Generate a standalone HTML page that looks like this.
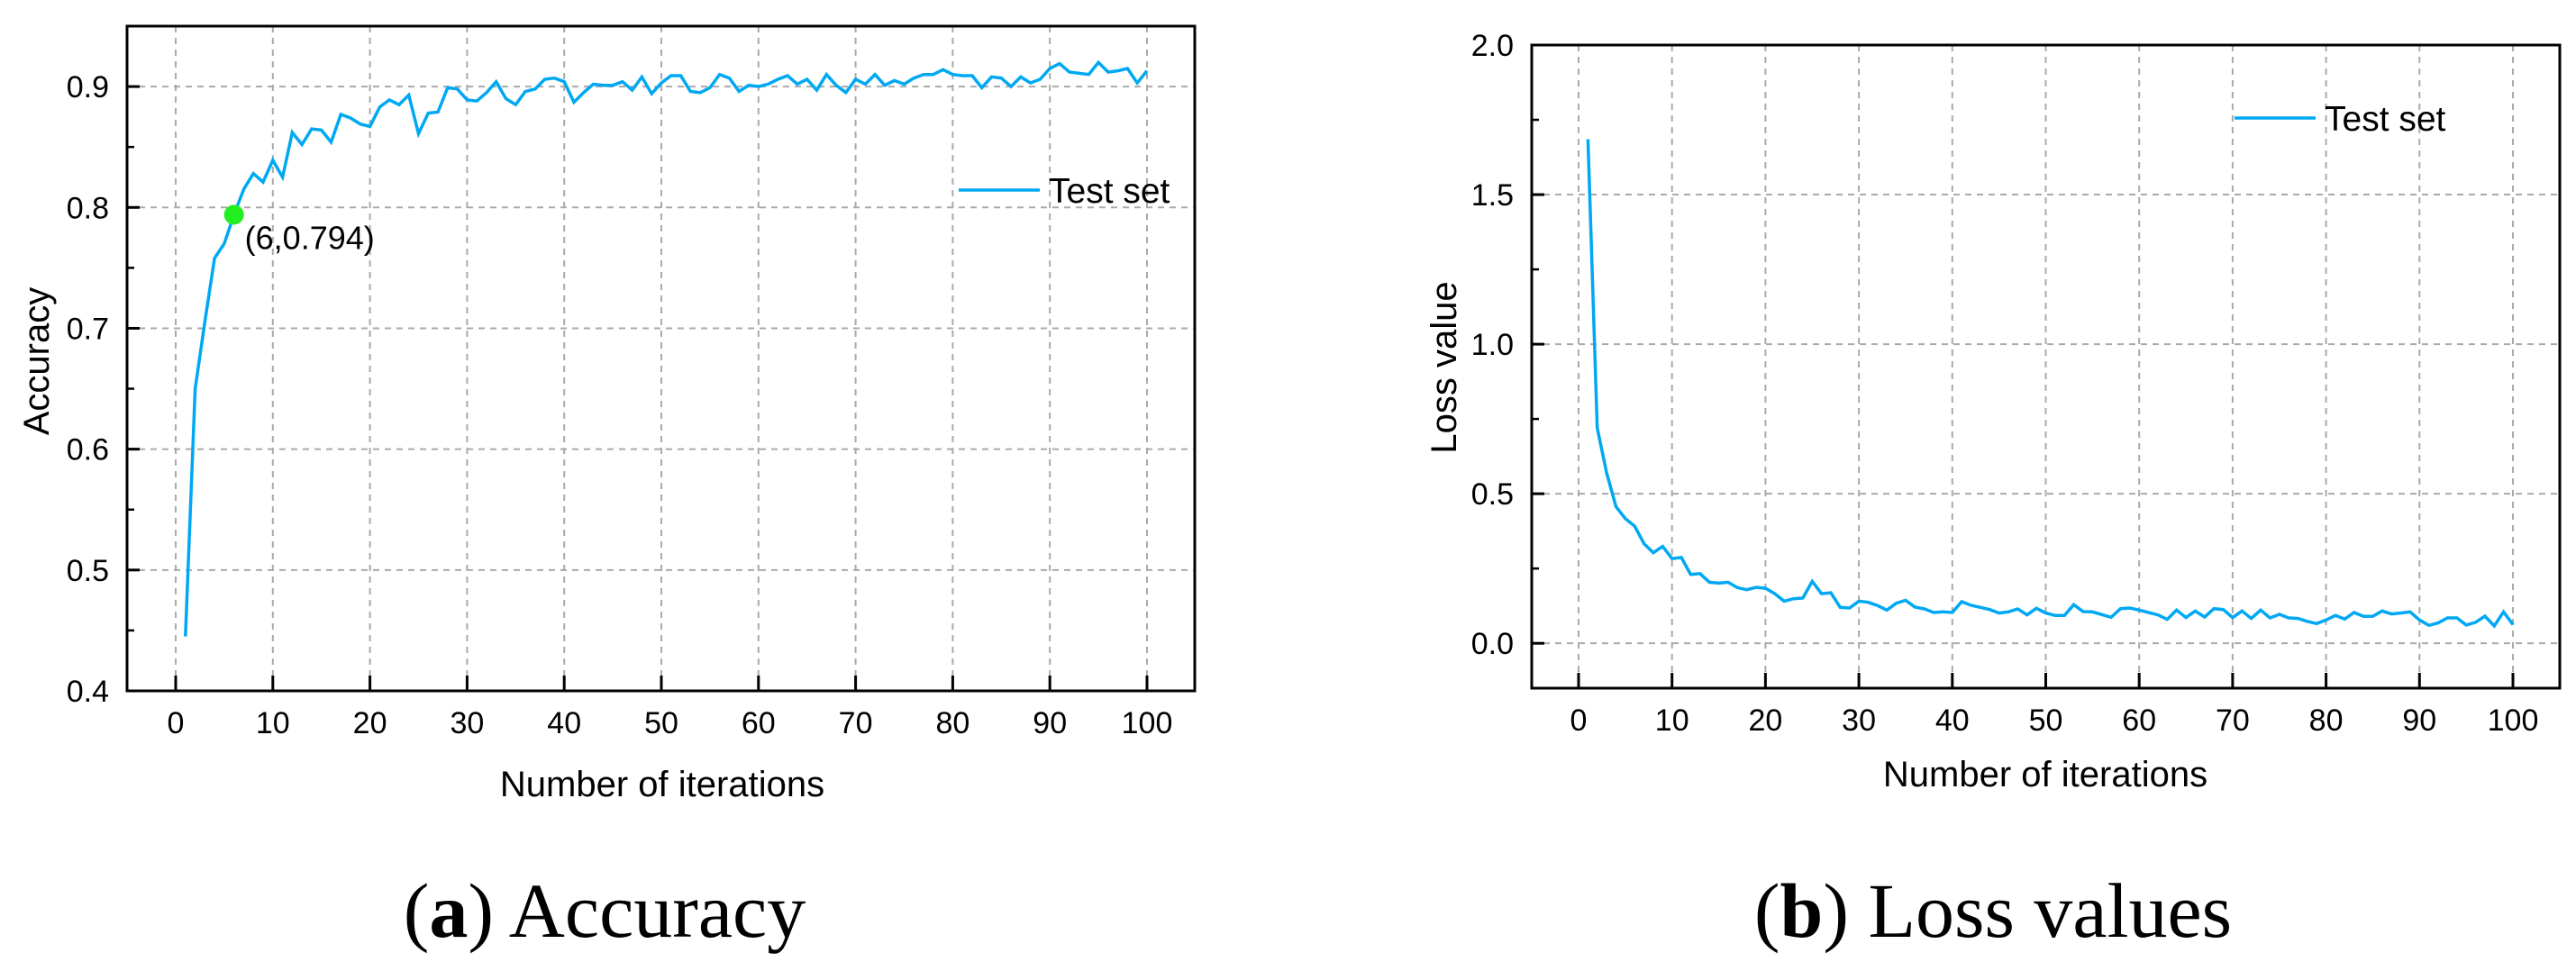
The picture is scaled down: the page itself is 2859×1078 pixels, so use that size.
<!DOCTYPE html>
<html><head><meta charset="utf-8"><style>
html,body{margin:0;padding:0;background:#fff}
svg{display:block}
text{font-family:"Liberation Sans",sans-serif;fill:#000}
.cap{font-family:"Liberation Serif",serif}
</style></head><body>
<svg id="fig" width="2859" height="1078" viewBox="0 0 2859 1078" xmlns="http://www.w3.org/2000/svg">
<g id="chartA"></g>
<g id="chartB"></g>
<text class="cap" x="671" y="1040" font-size="86" text-anchor="middle">(<tspan font-weight="bold">a</tspan>) Accuracy</text>
<text class="cap" x="2212" y="1040" font-size="86" text-anchor="middle">(<tspan font-weight="bold">b</tspan>) Loss values</text>
</svg>
<script>
const iterations = Array.from({length:100},(_,i)=>i+1);
const accuracyValues = [0.445,0.65,0.705,0.758,0.770,0.794,0.815,0.828,0.821,0.839,0.825,0.862,0.852,0.865,0.864,0.854,0.877,0.874,0.869,0.867,
0.883,0.889,0.885,0.893,0.861,0.878,0.879,0.899,0.898,0.889,0.888,0.895,0.904,0.890,0.885,0.896,0.898,0.906,0.907,0.904,
0.887,0.895,0.902,0.901,0.901,0.904,0.897,0.908,0.894,0.903,0.909,0.909,0.896,0.895,0.899,0.910,0.907,0.896,0.901,0.900,
0.902,0.906,0.909,0.902,0.906,0.897,0.910,0.901,0.895,0.906,0.902,0.910,0.901,0.905,0.902,0.907,0.910,0.910,0.914,0.910,
0.909,0.909,0.899,0.908,0.907,0.900,0.908,0.903,0.906,0.915,0.919,0.912,0.911,0.910,0.920,0.912,0.913,0.915,0.903,0.913];
const lossValues = [1.685,0.72,0.57,0.457,0.417,0.392,0.333,0.303,0.324,0.283,0.287,0.230,0.233,0.204,0.201,0.204,0.186,0.179,0.187,0.184,
0.166,0.141,0.149,0.151,0.207,0.166,0.169,0.120,0.118,0.141,0.137,0.126,0.111,0.134,0.144,0.121,0.115,0.103,0.105,0.103,
0.139,0.127,0.120,0.113,0.101,0.105,0.115,0.095,0.117,0.101,0.093,0.093,0.129,0.106,0.105,0.096,0.087,0.116,0.118,0.111,
0.103,0.095,0.080,0.111,0.086,0.108,0.088,0.116,0.113,0.086,0.108,0.083,0.111,0.085,0.097,0.085,0.083,0.073,0.066,0.078,
0.093,0.081,0.103,0.090,0.090,0.108,0.098,0.101,0.105,0.078,0.060,0.068,0.085,0.085,0.061,0.070,0.091,0.058,0.105,0.063];
const xTicks = [0,10,20,30,40,50,60,70,80,90,100];
const accYTicks = [0.4,0.5,0.6,0.7,0.8,0.9];
const accYTickLabels = ["0.4","0.5","0.6","0.7","0.8","0.9"];
const lossYTicks = [0.0,0.5,1.0,1.5,2.0];
const lossYTickLabels = ["0.0","0.5","1.0","1.5","2.0"];
const highlightX = [6];
const highlightY = [0.794];

const NS="http://www.w3.org/2000/svg";
function mk(parent,tag,attrs,txt){const e=document.createElementNS(NS,tag);for(const k in attrs)e.setAttribute(k,attrs[k]);if(txt!==undefined)e.textContent=txt;parent.appendChild(e);return e;}

function drawChart(g,cfg){
  const {L,R,T,B,ymin,ymax}=cfg;
  const sx=v=>cfg.x0+(v-0)*(cfg.x100-cfg.x0)/100;
  const sy=v=>B-(v-ymin)*(B-T)/(ymax-ymin);
  xTicks.forEach(t=>{
    const l=mk(g,'line',{x1:sx(t),x2:sx(t),y1:T,y2:B,stroke:'#aaa','stroke-width':2,'stroke-dasharray':'7,6'});
    
    
  });
  cfg.yTicks.forEach(t=>{
    const l=mk(g,'line',{x1:L,x2:R,y1:sy(t),y2:sy(t),stroke:'#aaa','stroke-width':2,'stroke-dasharray':'7,6'});
    
    
  });
  const pts=cfg.values.map((v,i)=>sx(iterations[i]).toFixed(1)+','+sy(v).toFixed(1)).join(' ');
  const pl=mk(g,'polyline',{points:pts,fill:'none',stroke:'#00a8f3','stroke-width':3.5,'stroke-linejoin':'miter'});
  
  
  const fr=mk(g,'rect',{x:L,y:T,width:R-L,height:B-T,fill:'none',stroke:'#000','stroke-width':3});
  
  
  xTicks.forEach(t=>{
    const tk=mk(g,'line',{x1:sx(t),x2:sx(t),y1:B,y2:B-17,stroke:'#000','stroke-width':3});
    
    
    const lb=mk(g,'text',{x:sx(t),y:B+47,'font-size':34,'text-anchor':'middle'},String(t));
    
    
  });
  const step=cfg.yTicks[1]-cfg.yTicks[0];
  cfg.yTicks.forEach((t,i)=>{
    const tk=mk(g,'line',{x1:L,x2:L+14,y1:sy(t),y2:sy(t),stroke:'#000','stroke-width':3});
    
    
    const mv=t+step/2;
    if(mv<ymax){
      const mt=mk(g,'line',{x1:L,x2:L+8,y1:sy(mv),y2:sy(mv),stroke:'#000','stroke-width':2.5});
      
      
    }
    const lb=mk(g,'text',{x:L-20,y:sy(t)+12,'font-size':34,'text-anchor':'end'},cfg.yLabels[i]);
    
    
  });
  const xt=mk(g,'text',{x:cfg.xTitleX,y:cfg.xTitleY,'font-size':40,'text-anchor':'middle'},'Number of iterations');
  
  
  const yt=mk(g,'text',{x:0,y:0,'font-size':40,'text-anchor':'middle',transform:`translate(${cfg.yTitleX},${cfg.yTitleY}) rotate(-90)`},cfg.yTitle);
  
  
  const lg=mk(g,'g',{});
  
  
  mk(lg,'line',{x1:cfg.legX,x2:cfg.legX+90,y1:cfg.legY,y2:cfg.legY,stroke:'#00a8f3','stroke-width':3.5});
  mk(lg,'text',{x:cfg.legX+100,y:cfg.legY+14,'font-size':39},'Test set');
  return {sx,sy};
}

const A=drawChart(document.getElementById('chartA'),{L:141,R:1326,T:29,B:767,x0:195,x100:1273,ymin:0.4,ymax:0.95,
  yTicks:accYTicks,yLabels:accYTickLabels,values:accuracyValues,xTitleX:735,xTitleY:884,yTitle:'Accuracy',yTitleX:54,yTitleY:401,legX:1064,legY:211});
const gA=document.getElementById('chartA');
highlightX.forEach((hx,i)=>{
  const c=mk(gA,'circle',{cx:A.sx(hx),cy:A.sy(highlightY[i]),r:11,fill:'#22ee22'});
  
  
  const t=mk(gA,'text',{x:A.sx(hx)+12,y:A.sy(highlightY[i])+38,'font-size':36},'('+hx+','+highlightY[i]+')');
  
  
});
drawChart(document.getElementById('chartB'),{L:1700,R:2841,T:50,B:764,x0:1752,x100:2789,ymin:-0.15,ymax:2.0,
  yTicks:lossYTicks,yLabels:lossYTickLabels,values:lossValues,xTitleX:2270,xTitleY:873,yTitle:'Loss value',yTitleX:1616,yTitleY:408,legX:2480,legY:131});
</script>
</body></html>
